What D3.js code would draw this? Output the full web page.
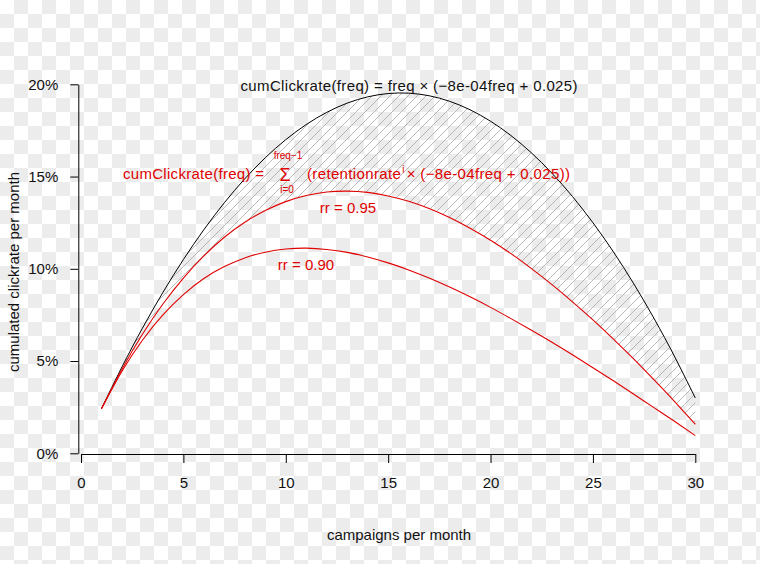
<!DOCTYPE html>
<html><head><meta charset="utf-8">
<script src="https://cdn.jsdelivr.net/npm/d3@7"></script>
<style>
html,body{margin:0;padding:0;background:#fff;}
svg{display:block;font-family:"Liberation Sans",Arial,sans-serif;}
</style></head>
<body>
<svg id="chart" width="760" height="564"></svg>
<script>
// ---- data ----
const freq = [1,2,3,4,5,6,7,8,9,10,11,12,13,14,15,16,17,18,19,20,21,22,23,24,25,26,27,28,29,30];
const cumRate = [0.0242,0.0468,0.0678,0.0872,0.1050,0.1212,0.1358,0.1488,0.1602,0.1700,0.1782,0.1848,0.1898,0.1932,0.1950,0.1952,0.1938,0.1908,0.1862,0.1800,0.1722,0.1628,0.1518,0.1392,0.1250,0.1092,0.0918,0.0728,0.0522,0.0300];
const cumRate095 = [0.0242,0.0456,0.0645,0.0809,0.0950,0.1070,0.1171,0.1252,0.1316,0.1364,0.1397,0.1416,0.1421,0.1414,0.1395,0.1366,0.1327,0.1278,0.1220,0.1155,0.1082,0.1001,0.0914,0.0821,0.0723,0.0619,0.0510,0.0396,0.0279,0.0157];
const cumRate090 = [0.0242,0.0445,0.0613,0.0750,0.0860,0.0947,0.1012,0.1059,0.1090,0.1107,0.1112,0.1105,0.1089,0.1064,0.1032,0.0994,0.0950,0.0901,0.0848,0.0791,0.0730,0.0667,0.0602,0.0534,0.0464,0.0393,0.0320,0.0246,0.0172,0.0096];
const xTicks = [0,5,10,15,20,25,30];
const yTicks = [0,0.05,0.10,0.15,0.20];

const svg = d3.select("#chart");
const defs = svg.append("defs");

// checkerboard background
const cb = defs.append("pattern").attr("id","checker").attr("patternUnits","userSpaceOnUse")
  .attr("width",28).attr("height",28);
cb.append("rect").attr("width",28).attr("height",28).attr("fill","#ffffff");
cb.append("rect").attr("x",14).attr("y",0).attr("width",14).attr("height",14).attr("fill","#ececec");
cb.append("rect").attr("x",0).attr("y",14).attr("width",14).attr("height",14).attr("fill","#ececec");
svg.append("rect").attr("width",760).attr("height",564).attr("fill","url(#checker)");

// hatch pattern
const hp = defs.append("pattern").attr("id","hatch").attr("patternUnits","userSpaceOnUse")
  .attr("width",9).attr("height",9);
hp.append("path").attr("d","M-1,10 L10,-1 M-1,1 L1,-1 M8,10 L10,8")
  .attr("stroke","#a8a8a8").attr("stroke-width",0.8).attr("fill","none");

const x = d3.scaleLinear().domain([0,30]).range([81,695.3]);
const y = d3.scaleLinear().domain([0,0.20]).range([453.3,84.3]);

const rows = freq.map((f,i)=>({f, a:cumRate[i], b:cumRate095[i], c:cumRate090[i]}));
const curve = d3.curveNatural;

// hatched area between the two upper curves
svg.append("path").datum(rows)
  .attr("d", d3.area().x(d=>x(d.f)).y0(d=>y(d.b)).y1(d=>y(d.a)).curve(curve))
  .attr("fill","url(#hatch)").attr("stroke","none");

const line = key => d3.line().x(d=>x(d.f)).y(d=>y(d[key])).curve(curve);
svg.append("path").datum(rows).attr("d", line("a")).attr("fill","none").attr("stroke","#000").attr("stroke-width",1);
svg.append("path").datum(rows).attr("d", line("b")).attr("fill","none").attr("stroke","#e00000").attr("stroke-width",1.1);
svg.append("path").datum(rows).attr("d", line("c")).attr("fill","none").attr("stroke","#e00000").attr("stroke-width",1.1);

// axes
const gy = svg.append("g").attr("transform","translate(78.3,0)")
  .call(d3.axisLeft(y).tickValues(yTicks).tickFormat(d3.format(".0%")).tickSizeInner(8).tickSizeOuter(0).tickPadding(12));
const gx = svg.append("g").attr("transform","translate(0,454)")
  .call(d3.axisBottom(x).tickValues(xTicks).tickFormat(d3.format("d")).tickSizeInner(9).tickSizeOuter(0).tickPadding(14));
[gy,gx].forEach(g=>{
  g.selectAll("path,line").attr("stroke","#000").attr("stroke-width",1);
  g.selectAll("text").attr("font-size",15).attr("font-family","'Liberation Sans',Arial,sans-serif").attr("fill","#111");
});

// axis titles
svg.append("text").attr("x",399).attr("y",540).attr("text-anchor","middle")
  .attr("font-size",15).attr("fill","#111").text("campaigns per month");
svg.append("text").attr("transform","translate(19,272) rotate(-90)").attr("text-anchor","middle")
  .attr("font-size",15).attr("fill","#111").text("cumulated clickrate per month");

// black formula
svg.append("text").attr("x",409).attr("y",91).attr("text-anchor","middle")
  .attr("font-size",15).attr("fill","#111").attr("textLength",337).attr("lengthAdjust","spacing")
  .text("cumClickrate(freq) = freq \u00D7 (\u22128e-04freq + 0.025)");

// red formula
const red = "#e00000";
svg.append("text").attr("x",123).attr("y",179).attr("font-size",15).attr("fill",red)
  .attr("textLength",141).attr("lengthAdjust","spacing")
  .text("cumClickrate(freq) =");
svg.append("text").attr("x",285).attr("y",181).attr("text-anchor","middle").attr("font-size",18).attr("fill",red)
  .text("\u03A3");
svg.append("text").attr("x",288).attr("y",159).attr("text-anchor","middle").attr("font-size",10).attr("fill",red)
  .text("freq\u22121");
svg.append("text").attr("x",287).attr("y",193).attr("text-anchor","middle").attr("font-size",10).attr("fill",red)
  .text("i=0");
const rt = svg.append("text").attr("x",307).attr("y",179).attr("font-size",15).attr("fill",red)
  .attr("textLength",263).attr("lengthAdjust","spacing");
rt.append("tspan").text("(retentionrate");
rt.append("tspan").attr("dy",-6).attr("font-size",10).attr("dx",1).text("i");
rt.append("tspan").attr("dy",6).attr("dx",2).text("\u00D7 (\u22128e-04freq + 0.025))");

svg.append("text").attr("x",348).attr("y",213).attr("text-anchor","middle").attr("font-size",15).attr("fill",red).text("rr = 0.95");
svg.append("text").attr("x",306).attr("y",270).attr("text-anchor","middle").attr("font-size",15).attr("fill",red).text("rr = 0.90");
</script>
</body></html>
